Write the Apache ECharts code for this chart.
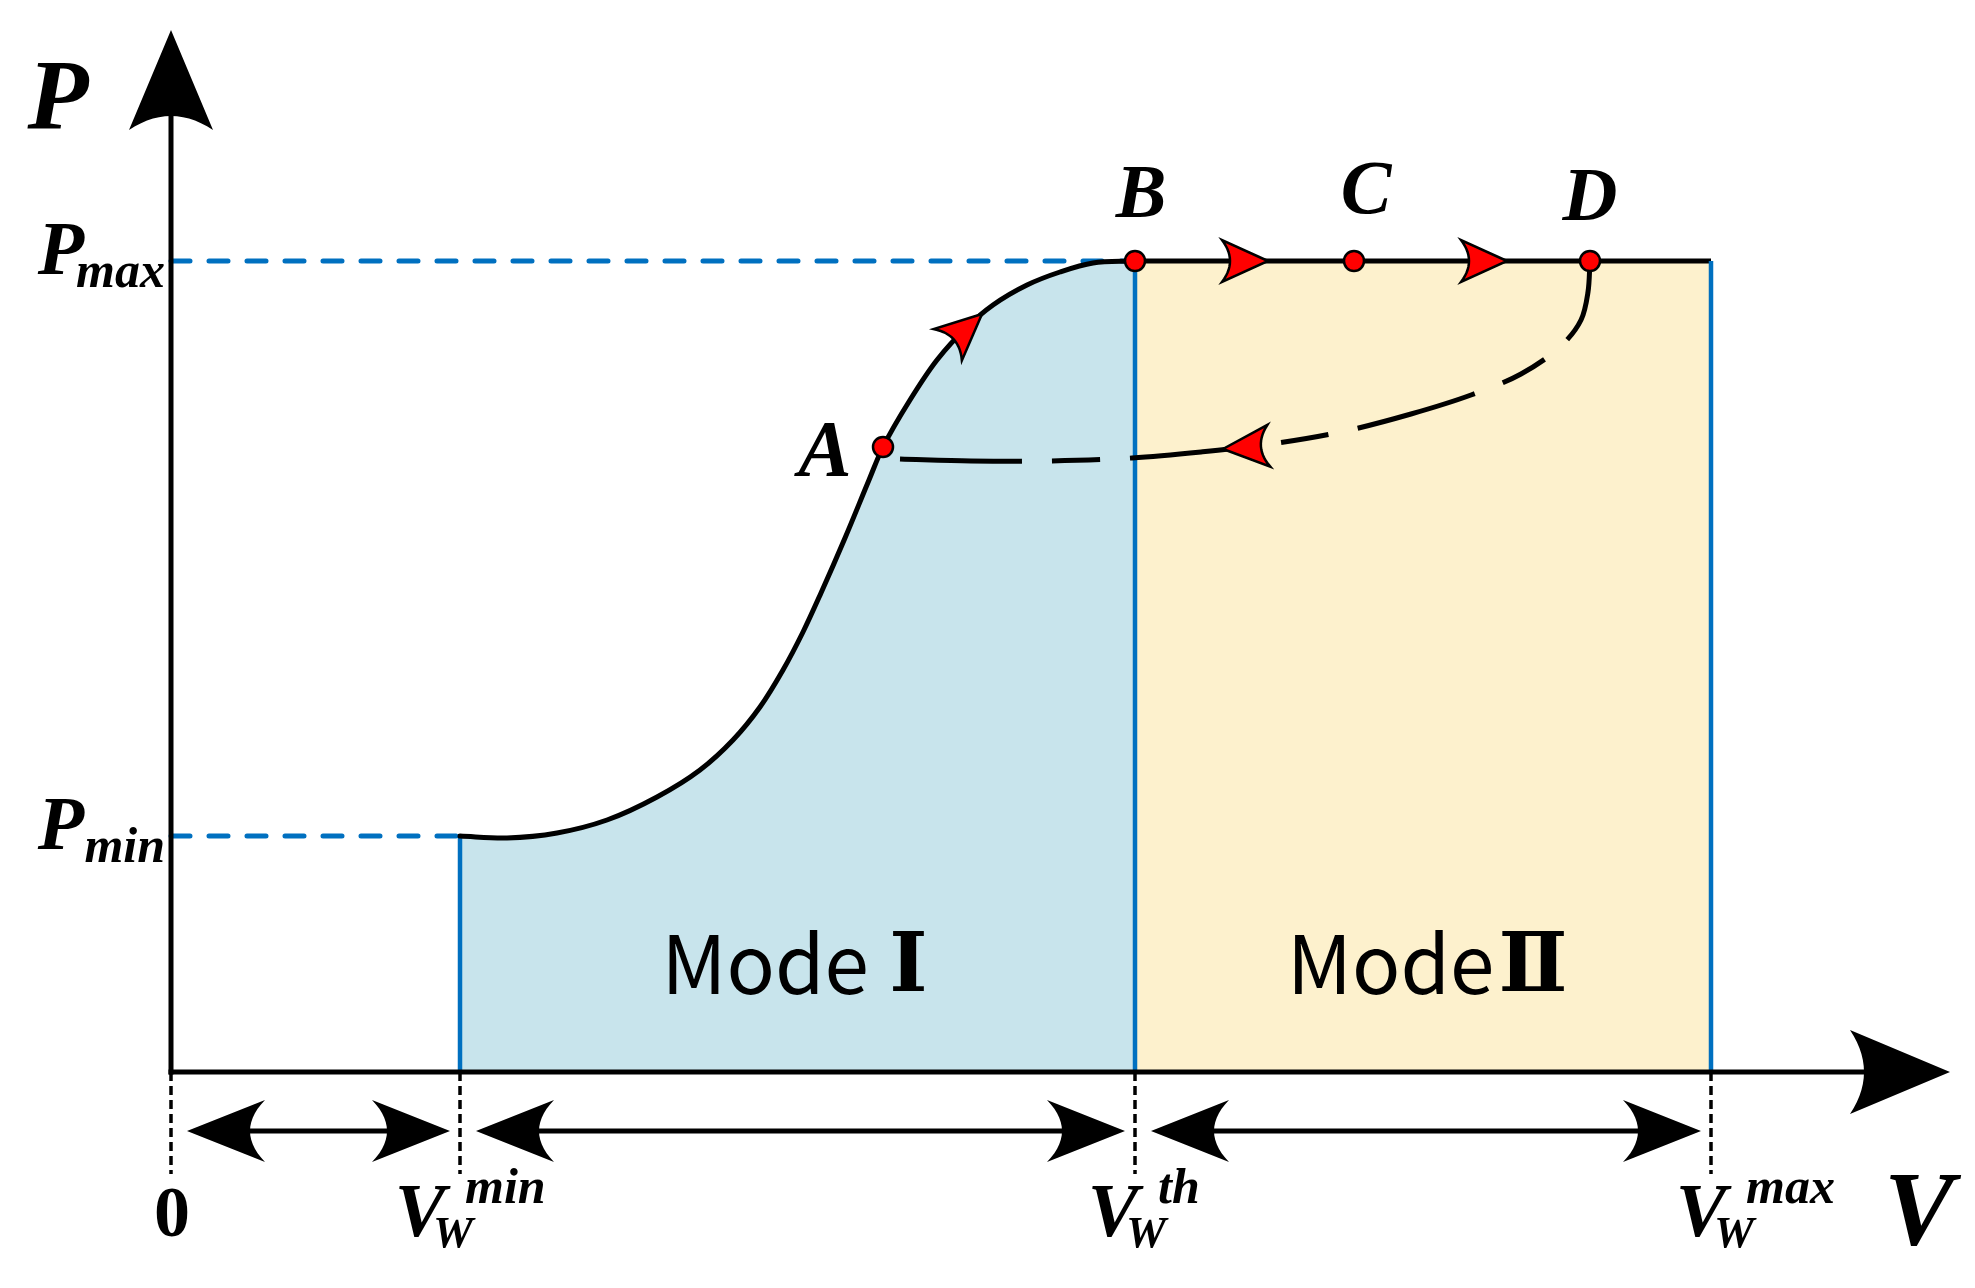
<!DOCTYPE html>
<html>
<head>
<meta charset="utf-8">
<script src="https://cdn.jsdelivr.net/npm/echarts@6/dist/echarts.min.js"></script>
<style>
html, body { margin: 0; padding: 0; background: #fff; }
#chart { width: 1975px; height: 1288px; }
</style>
</head>
<body>
<div id="chart"></div>
<script>
// ---- values (V: wind speed axis, P: power axis) ----
const V_AXIS_END = 1779;
const P_AXIS_END = 1042;
const V_W_MIN = 289;
const V_W_TH = 964;
const V_W_MAX = 1540;
const P_MIN = 236;
const P_MAX = 811;

// Mode I power curve (from Vw_min to B)
const curveV = [289, 336, 386, 436, 486, 529, 562, 589, 612, 632, 650, 674, 698, 712, 739, 766, 796, 822, 856, 889, 922, 964];
const curveP = [236, 234, 239, 252, 275, 302, 332, 365, 402, 440, 479, 534, 592, 625, 672, 712, 745, 767, 787, 800, 809, 811];

// dashed return path (from A back to D)
const returnV = [729, 800, 880, 961, 1030, 1100, 1170, 1240, 1300, 1350, 1390, 1410, 1417, 1419];
const returnP = [613, 611, 611, 614, 620, 628, 640, 658, 677, 698, 726, 752, 780, 811];

// operating points
const pointNames = ['A', 'B', 'C', 'D'];
const pointV = [712, 964, 1183, 1419];
const pointP = [625, 811, 811, 811];

// red flow arrows: tip position and direction
const flowV = [811, 1097, 1336, 1052];
const flowP = [758, 811, 811, 623];
const flowDirV = [30, 1, 1, -1];
const flowDirP = [27, 0, 0, -0.07];

// tick labels
const xTickValues = [0, V_W_MIN, V_W_TH, V_W_MAX];
const xTickSup = ['', 'min', 'th', 'max'];
const yTickValues = [P_MIN, P_MAX];
const yTickSub = ['min', 'max'];
const modeWords = ['Mode', 'Mode'];
const modeNumerals = ['Ⅰ', 'Ⅱ'];
const modeRanges = [[V_W_MIN, V_W_TH], [V_W_TH, V_W_MAX]];

// ---- drawing ----
const SERIF = '"Liberation Serif", "Times New Roman", serif';
const CJK = '"Noto Sans CJK SC", "Noto Sans", sans-serif';
const BLUE = '#0070C0';

function arrowHead(tip, ang, L, W, notch, style) {
  const c = Math.cos(ang), s = Math.sin(ang);
  const P = (u, v) => [tip[0] + u * c - v * s, tip[1] + u * s + v * c];
  const pts = [P(0, 0), P(-L, -W / 2)];
  for (let i = 1; i < 14; i++) {
    const t = i / 14;
    const u = (1 - t) * (1 - t) * (-L) + 2 * (1 - t) * t * (-L + 2 * notch) + t * t * (-L);
    const v = (1 - t) * (1 - t) * (-W / 2) + t * t * (W / 2);
    pts.push(P(u, v));
  }
  pts.push(P(-L, W / 2));
  return { type: 'polygon', shape: { points: pts }, style: style };
}

// centripetal Catmull-Rom spline through pixel points -> SVG path data
function splinePath(pts) {
  let d = 'M' + pts[0][0] + ',' + pts[0][1];
  const dist = (a, b) => Math.sqrt(Math.hypot(b[0] - a[0], b[1] - a[1])) || 1e-6;
  for (let i = 0; i < pts.length - 1; i++) {
    const p1 = pts[i], p2 = pts[i + 1];
    const p0 = pts[i - 1] || [2 * p1[0] - p2[0], 2 * p1[1] - p2[1]];
    const p3 = pts[i + 2] || [2 * p2[0] - p1[0], 2 * p2[1] - p1[1]];
    const d1 = dist(p0, p1), d2 = dist(p1, p2), d3 = dist(p2, p3);
    const c1 = [], c2 = [];
    for (let k = 0; k < 2; k++) {
      const m1 = (p1[k] - p0[k]) / d1 - (p2[k] - p0[k]) / (d1 + d2) + (p2[k] - p1[k]) / d2;
      const m2 = (p2[k] - p1[k]) / d2 - (p3[k] - p1[k]) / (d2 + d3) + (p3[k] - p2[k]) / d3;
      c1[k] = p1[k] + m1 * d2 / 3;
      c2[k] = p2[k] - m2 * d2 / 3;
    }
    d += ' C' + c1[0] + ',' + c1[1] + ' ' + c2[0] + ',' + c2[1] + ' ' + p2[0] + ',' + p2[1];
  }
  return d;
}

function txt(x, baseline, text, size, o) {
  o = o || {};
  const mid = o.mid != null ? o.mid : 0.3375;
  return {
    type: 'text', x: x, y: baseline - mid * size,
    style: {
      text: text, fontFamily: o.family || SERIF, fontSize: size,
      fontStyle: o.style || 'italic', fontWeight: o.weight || 'bold',
      fill: '#000', align: o.align || 'center', verticalAlign: 'middle'
    }
  };
}

function segSeries(segs, style, z) {
  return {
    type: 'custom', coordinateSystem: 'cartesian2d', silent: true, z: z, clip: false,
    data: segs,
    renderItem: function (params, api) {
      const a = api.coord([api.value(0), api.value(1)]);
      const b = api.coord([api.value(2), api.value(3)]);
      return { type: 'line', shape: { x1: a[0], y1: a[1], x2: b[0], y2: b[1] }, style: style };
    }
  };
}

const chart = echarts.init(document.getElementById('chart'), null, { renderer: 'canvas' });

const option = {
  animation: false,
  backgroundColor: '#fff',
  grid: { left: 171, top: 30, width: 1779, height: 1042 },
  xAxis: { type: 'value', min: 0, max: V_AXIS_END, show: false },
  yAxis: { type: 'value', min: 0, max: P_AXIS_END, show: false },
  series: [
    // Mode I region (area under power curve)
    {
      type: 'custom', coordinateSystem: 'cartesian2d', silent: true, z: 1, clip: false,
      data: curveV.map((v, i) => [v, curveP[i]]),
      renderItem: function (params, api) {
        if (params.dataIndex !== 0) return;
        const pts = curveV.map((v, i) => api.coord([v, curveP[i]]));
        const b0 = api.coord([curveV[curveV.length - 1], 0]);
        const b1 = api.coord([curveV[0], 0]);
        const d = splinePath(pts) + ' L' + b0[0] + ',' + b0[1] + ' L' + b1[0] + ',' + b1[1] + ' Z';
        return { type: 'path', shape: { pathData: d }, style: { fill: '#C8E4EC', stroke: null } };
      }
    },
    // Mode II region + rated power line
    {
      type: 'line', z: 1, silent: true, showSymbol: false,
      data: [[V_W_TH, P_MAX], [V_W_MAX, P_MAX]],
      lineStyle: { color: '#000', width: 5 },
      areaStyle: { color: '#FDF1CD', opacity: 1, origin: 'start' }
    },
    // blue boundaries
    segSeries([[V_W_MIN, 0, V_W_MIN, P_MIN], [V_W_TH, 0, V_W_TH, P_MAX], [V_W_MAX, 0, V_W_MAX, P_MAX]],
      { stroke: BLUE, lineWidth: 4.5 }, 2),
    // blue dashed guides
    segSeries([[0, P_MAX, V_W_TH, P_MAX], [0, P_MIN, V_W_MIN, P_MIN]],
      { stroke: BLUE, lineWidth: 5, lineDash: [19, 19], lineCap: 'round' }, 2),
    // dotted drop lines below axis
    {
      type: 'custom', coordinateSystem: 'cartesian2d', silent: true, z: 3, clip: false,
      data: xTickValues.map(v => [v, 0]),
      renderItem: function (params, api) {
        const a = api.coord([api.value(0), 0]);
        return { type: 'line', shape: { x1: a[0], y1: a[1], x2: a[0], y2: a[1] + 102 },
          style: { stroke: '#000', lineWidth: 3.5, lineDash: [9, 5] } };
      }
    },
    // double-headed range arrows
    {
      type: 'custom', coordinateSystem: 'cartesian2d', silent: true, z: 3, clip: false,
      data: xTickValues.slice(0, -1).map((v, i) => [v, 0, xTickValues[i + 1]]),
      renderItem: function (params, api) {
        const a = api.coord([api.value(0), 0]);
        const b = api.coord([api.value(2), 0]);
        const y = a[1] + 59;
        const xa = a[0] + 16, xb = b[0] - 10;
        const L = 78, W = 62, N = 15;
        return { type: 'group', children: [
          { type: 'line', shape: { x1: xa + L - N, y1: y, x2: xb - L + N, y2: y }, style: { stroke: '#000', lineWidth: 5 } },
          arrowHead([xa, y], Math.PI, L, W, N, { fill: '#000' }),
          arrowHead([xb, y], 0, L, W, N, { fill: '#000' })
        ] };
      }
    },
    // axes with arrow heads
    {
      type: 'custom', coordinateSystem: 'cartesian2d', silent: true, z: 4, clip: false,
      data: [[0, 0, 0, P_AXIS_END], [0, 0, V_AXIS_END, 0]],
      renderItem: function (params, api) {
        const a = api.coord([api.value(0), api.value(1)]);
        const b = api.coord([api.value(2), api.value(3)]);
        const ang = Math.atan2(b[1] - a[1], b[0] - a[0]);
        const L = 100, W = 84, N = 14;
        const ex = b[0] - (L - N) * Math.cos(ang), ey = b[1] - (L - N) * Math.sin(ang);
        return { type: 'group', children: [
          { type: 'line', shape: { x1: a[0], y1: a[1], x2: ex, y2: ey }, style: { stroke: '#000', lineWidth: 5, lineCap: 'square' } },
          arrowHead(b, ang, L, W, N, { fill: '#000' })
        ] };
      }
    },
    // power curve (Mode I)
    {
      type: 'custom', coordinateSystem: 'cartesian2d', silent: true, z: 5, clip: false,
      data: curveV.map((v, i) => [v, curveP[i]]),
      renderItem: function (params, api) {
        if (params.dataIndex !== 0) return;
        const pts = curveV.map((v, i) => api.coord([v, curveP[i]]));
        return { type: 'path', shape: { pathData: splinePath(pts) },
          style: { fill: null, stroke: '#000', lineWidth: 5, lineCap: 'round' } };
      }
    },
    // dashed return path A <- D
    {
      type: 'custom', coordinateSystem: 'cartesian2d', silent: true, z: 5, clip: false,
      data: returnV.map((v, i) => [v, returnP[i]]),
      renderItem: function (params, api) {
        if (params.dataIndex !== 0) return;
        const pts = returnV.map((v, i) => api.coord([v, returnP[i]]));
        return { type: 'path', shape: { pathData: splinePath(pts) },
          style: { fill: null, stroke: '#000', lineWidth: 5, lineDash: [122, 30, 48, 30] } };
      }
    },
    // red flow arrows
    {
      type: 'custom', coordinateSystem: 'cartesian2d', silent: true, z: 6, clip: false,
      data: flowV.map((v, i) => [v, flowP[i], flowDirV[i], flowDirP[i]]),
      renderItem: function (params, api) {
        const v = api.value(0), p = api.value(1);
        const tip = api.coord([v, p]);
        const q = api.coord([v + api.value(2), p + api.value(3)]);
        const ang = Math.atan2(q[1] - tip[1], q[0] - tip[0]);
        return arrowHead(tip, ang, 46, 42, 8, { fill: '#FF0000', stroke: '#000', lineWidth: 2.5, lineJoin: 'miter' });
      }
    },
    // operating points
    {
      type: 'scatter', z: 10, silent: true, symbol: 'circle', symbolSize: 20,
      data: pointV.map((v, i) => [v, pointP[i]]),
      itemStyle: { color: '#FF0000', borderColor: '#000', borderWidth: 2.5, opacity: 1 }
    },
    // text annotations
    {
      type: 'custom', coordinateSystem: 'cartesian2d', silent: true, z: 12, clip: false,
      data: [[0, 0]],
      renderItem: function (params, api) {
        const ch = [];
        const top = api.coord([0, P_AXIS_END]);
        const right = api.coord([V_AXIS_END, 0]);
        ch.push(txt(top[0] - 113, top[1] + 106, 'P', 100));
        ch.push(txt(right[0] - 31, right[1] + 180, 'V', 105));
        // y ticks
        yTickValues.forEach((val, i) => {
          const c = api.coord([0, val]);
          ch.push(txt(c[0] - 110, c[1] + 19, 'P', 76));
          ch.push(txt(c[0] - 6, c[1] + 30, yTickSub[i], 50, { align: 'right' }));
        });
        // x ticks
        const vShift = [0, -40, -22, -10];
        xTickValues.forEach((val, i) => {
          const c = api.coord([val, 0]);
          if (i === 0) {
            ch.push(txt(c[0] + 1, c[1] + 170, '0', 72, { style: 'normal' }));
            return;
          }
          const vx = c[0] + vShift[i];
          ch.push(txt(vx, c[1] + 170, 'V', 76));
          ch.push(txt(vx + 33, c[1] + 179, 'W', 45));
          ch.push(txt(vx + 45, c[1] + 135, xTickSup[i], 50, { align: 'left' }));
        });
        // point labels
        const pOff = [[-58, 35, 80], [6, -38, 76], [12, -42, 76], [0, -35, 76]];
        pointNames.forEach((n, i) => {
          const c = api.coord([pointV[i], pointP[i]]);
          ch.push(txt(c[0] + pOff[i][0], c[1] + pOff[i][1], n, pOff[i][2]));
        });
        // mode labels
        const numShift = [111, 110];
        modeWords.forEach((n, i) => {
          const c = api.coord([(modeRanges[i][0] + modeRanges[i][1]) / 2, 0]);
          ch.push(txt(c[0] - 136, c[1] - 74, n, 80, { family: CJK, style: 'normal', weight: 'normal', mid: 0.436, align: 'left' }));
          ch.push(txt(c[0] + numShift[i], c[1] - 74, modeNumerals[i], 82,
            { family: '"DejaVu Serif", "DejaVu Sans", serif', style: 'normal', weight: 'bold', mid: 0.346 }));
        });
        return { type: 'group', children: ch };
      }
    }
  ]
};

chart.setOption(option);
</script>
</body>
</html>
